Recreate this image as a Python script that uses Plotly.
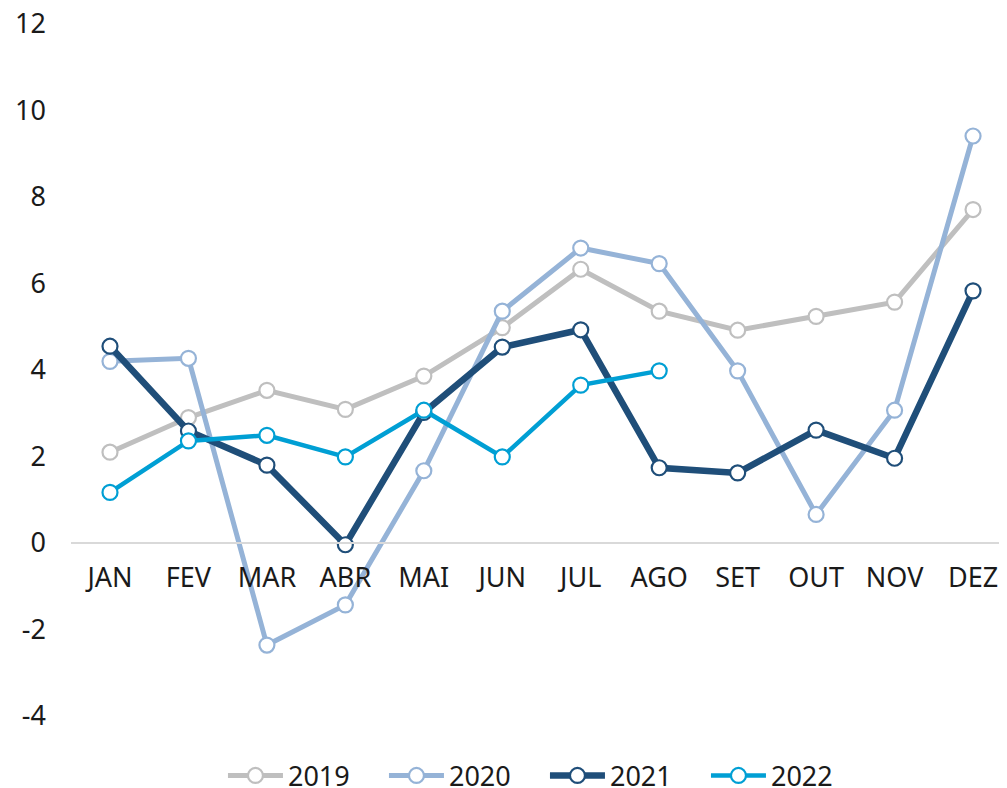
import plotly.graph_objects as go

months = ["JAN", "FEV", "MAR", "ABR", "MAI", "JUN", "JUL", "AGO", "SET", "OUT", "NOV", "DEZ"]

v2019 = [2.10, 2.90, 3.53, 3.09, 3.86, 4.98, 6.33, 5.36, 4.92, 5.24, 5.57, 7.71]
v2020 = [4.20, 4.27, -2.36, -1.43, 1.67, 5.36, 6.82, 6.46, 3.98, 0.66, 3.07, 9.41]
v2021 = [4.55, 2.59, 1.80, -0.04, 3.02, 4.53, 4.93, 1.74, 1.62, 2.61, 1.96, 5.83]
v2022 = [1.17, 2.36, 2.49, 1.99, 3.07, 1.99, 3.65, 3.98]

y_ticks = [-4, -2, 0, 2, 4, 6, 8, 10, 12]
y_tick_text = ["-4", "-2", "0", "2", "4", "6", "8", "10", "12"]

series = [
    ("2019", v2019, "#BFBFBF", 5),
    ("2020", v2020, "#95B3D7", 5),
    ("2021", v2021, "#1F4E79", 6.5),
    ("2022", v2022, "#009FD4", 4.5),
]

fig = go.Figure()
for name, vals, color, lw in series:
    fig.add_trace(go.Scatter(
        x=months[:len(vals)], y=vals, name=name, mode="lines+markers",
        line=dict(color=color, width=lw),
        marker=dict(size=15, color="white", line=dict(color=color, width=2.2)),
    ))

font = "Noto Sans, Open Sans, sans-serif"
fig.update_layout(
    width=999, height=780,
    margin=dict(l=63, r=0, t=16, b=72, autoexpand=False),
    paper_bgcolor="white", plot_bgcolor="white",
    font=dict(family=font, size=27, color="#1a1a1a"),
    showlegend=True,
    legend=dict(orientation="h", xref="container", x=0.5375, xanchor="center",
                yref="container", y=0.0155, yanchor="middle",
                font=dict(size=27), itemwidth=55, entrywidth=91, tracegroupgap=0),
    xaxis=dict(
        type="category", categoryorder="array", categoryarray=months,
        range=[-0.497, 11.433],
        anchor="free", position=0.25,
        showline=True, linecolor="#D9D9D9", linewidth=2,
        showgrid=False, zeroline=False,
        ticks="", ticklabelstandoff=11,
        tickfont=dict(size=27),
    ),
    yaxis=dict(
        range=[-4, 12], tickvals=y_ticks, ticktext=y_tick_text,
        showgrid=False, zeroline=False, showline=False,
        ticks="", ticklabelstandoff=24, ticklabeloverflow="allow",
        tickfont=dict(size=27),
    ),
)

fig.write_html("out.html")
